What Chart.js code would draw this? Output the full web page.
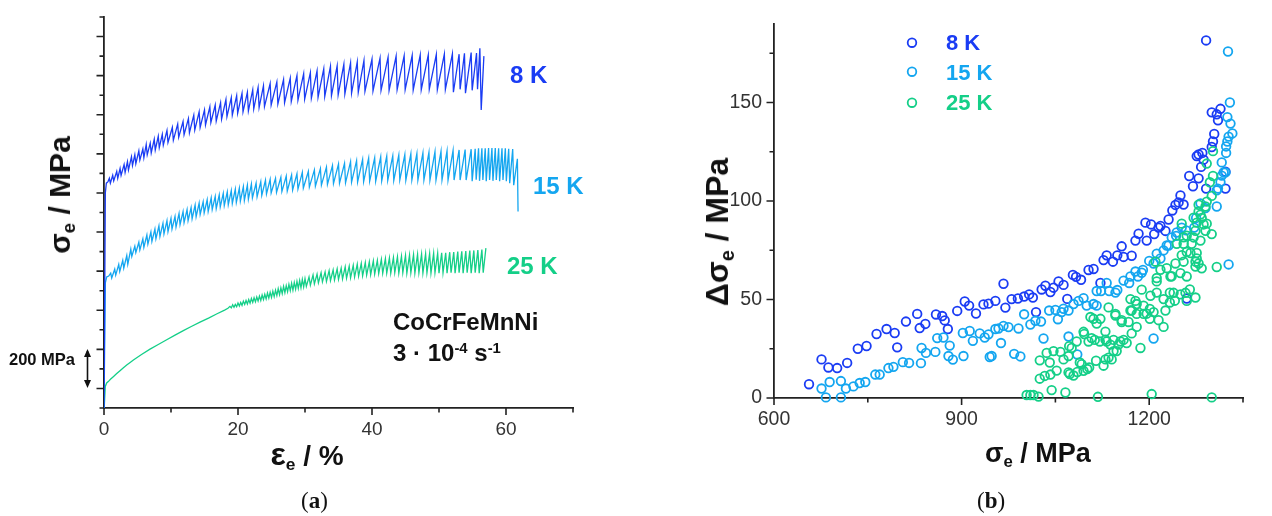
<!DOCTYPE html>
<html>
<head>
<meta charset="utf-8">
<script src="https://cdn.jsdelivr.net/npm/chart.js@4.4.0/dist/chart.umd.min.js"></script>
<style>
  body { margin: 0; width: 1272px; height: 516px; background: #fff; position: relative; overflow: hidden;
         font-family: "Liberation Sans", Arial, sans-serif; }
  canvas { position: absolute; top: 0; }
  #chartA { left: 0; }
  #chartB { left: 640px; }
  .t { position: absolute; line-height: 1; white-space: nowrap; font-weight: bold; color: #111; }
  .sub { font-size: 0.62em; position: relative; top: 0.28em; }
  .sup { font-size: 0.62em; position: relative; top: -0.55em; }
  .rot { transform: translate(-50%, -50%) rotate(-90deg); }
  .cap { font-family: "Liberation Serif", "DejaVu Serif", serif; font-weight: normal; font-size: 23px; }
</style>
</head>
<body>
<canvas id="chartA" width="640" height="516"></canvas>
<canvas id="chartB" width="632" height="516"></canvas>

<!-- panel (a) texts -->
<div class="t rot" style="left:60px; top:195px; font-size:30px;">&sigma;<span class="sub">e</span> / MPa</div>
<div class="t" style="left:307px; top:438px; font-size:28px; transform:translateX(-50%);"><span style="font-size:1.15em">&epsilon;</span><span class="sub">e</span> / %</div>
<div class="t" style="left:510px; top:63px; font-size:24px; color:#1a3cf4;">8 K</div>
<div class="t" style="left:533px; top:174px; font-size:24px; color:#14a6f0;">15 K</div>
<div class="t" style="left:507px; top:254px; font-size:24px; color:#14cf88;">25 K</div>
<div class="t" style="left:393px; top:310px; font-size:24px;">CoCrFeMnNi</div>
<div class="t" style="left:393px; top:341px; font-size:24px;">3 &middot; 10<span class="sup">-4</span> s<span class="sup">-1</span></div>
<div class="t" style="left:9px; top:351px; font-size:16.5px;">200 MPa</div>
<svg style="position:absolute; left:80px; top:345px;" width="16" height="48">
  <line x1="7.5" y1="6" x2="7.5" y2="40" stroke="#111" stroke-width="1.6"/>
  <polygon points="7.5,4 4,12 11,12" fill="#111"/>
  <polygon points="7.5,43 4,35 11,35" fill="#111"/>
</svg>
<div class="t cap" style="left:301px; top:489px;">(<b>a</b>)</div>

<!-- panel (b) texts and legend -->
<div class="t rot" style="left:717px; top:232px; font-size:32px;">&Delta;&sigma;<span class="sub">e</span> / MPa</div>
<div class="t" style="left:985px; top:440px; font-size:27px;">&sigma;<span class="sub">e</span> / MPa</div>
<svg style="position:absolute; left:900px; top:30px;" width="24" height="86">
  <circle cx="12" cy="12.7" r="4.3" fill="none" stroke="#1a3cf4" stroke-width="1.8"/>
  <circle cx="12" cy="41.7" r="4.3" fill="none" stroke="#14a6f0" stroke-width="1.8"/>
  <circle cx="12" cy="72.7" r="4.3" fill="none" stroke="#14cf88" stroke-width="1.8"/>
</svg>
<div class="t" style="left:946px; top:32px; font-size:22px; color:#1a3cf4;">8 K</div>
<div class="t" style="left:946px; top:62px; font-size:22px; color:#14a6f0;">15 K</div>
<div class="t" style="left:946px; top:92px; font-size:22px; color:#14cf88;">25 K</div>
<div class="t cap" style="left:977px; top:489px;">(<b>b</b>)</div>

<script>
// colours per test temperature
const C8 = '#1a3cf4';
const C15 = '#14a6f0';
const C25 = '#14cf88';

// (a) engineering stress-strain curves, [strain %, stress MPa] with curves shifted apart
const curve8K = [
  [0,-100],[0.2,1000],[0.35,1050],[0.6,1058],
  [0.8,1075],[0.95,1050],[1.3,1090],[1.45,1062],[1.9,1110],[2.05,1075],[2.4,1125],[2.55,1090],
  [3.0,1145],[3.15,1105],[3.5,1160],[3.65,1118],[4.1,1185],[4.25,1140],[4.6,1195],[4.75,1150],
  [5.2,1215],[5.35,1168],[5.8,1225],[5.95,1180],[6.3,1248],[6.45,1195],[6.9,1255],[7.05,1205],
  [7.5,1275],[7.65,1220],[8.1,1290],[8.25,1232],[8.7,1300],[8.85,1245],[9.4,1320],[9.55,1258],
  [10.2,1335],[10.35,1270],[11.0,1352],[11.15,1285],[11.8,1365],[11.95,1298],[12.6,1380],[12.75,1308],
  [13.4,1398],[13.55,1322],[14.2,1415],[14.35,1335],[15.0,1425],[15.15,1348],[15.8,1440],[15.95,1360],
  [16.6,1450],[16.75,1368],[17.4,1462],[17.55,1378],[18.2,1478],[18.35,1390],[19.0,1488],[19.15,1398],
  [19.8,1498],[19.95,1408],[20.6,1510],[20.75,1415],[21.4,1515],[21.55,1420],[22.2,1528],[22.35,1430],
  [23.0,1540],[23.15,1437],[23.8,1548],[23.95,1442],[24.8,1560],[24.95,1450],[25.8,1568],[25.95,1455],
  [26.8,1580],[26.95,1462],[27.8,1588],[27.95,1468],[28.8,1600],[28.95,1475],[29.8,1610],[29.95,1480],
  [30.8,1615],[30.95,1485],[31.8,1625],[31.95,1490],[32.8,1635],[32.95,1494],[33.8,1648],[33.95,1498],
  [34.8,1650],[34.95,1502],[35.8,1658],[35.95,1506],[36.8,1666],[36.95,1510],[37.8,1670],[37.95,1515],
  [38.8,1678],[38.95,1520],[40.0,1685],[40.15,1522],[41.2,1690],[41.35,1525],[42.4,1695],[42.55,1525],
  [43.6,1700],[43.75,1528],[44.8,1702],[44.95,1528],[46.0,1704],[46.15,1527],[47.2,1706],[47.35,1528],
  [48.4,1706],[48.55,1530],[49.6,1708],[49.75,1528],[50.8,1710],[50.95,1530],[52.0,1712],[52.15,1515],
  [53.0,1710],[53.15,1530],[53.8,1714],[53.95,1510],[54.8,1718],[54.95,1525],[55.6,1716],[55.75,1530],
  [56.1,1740],[56.3,1424],[56.7,1700]
];

const curve15K = [
  [0,-100],[0.2,540],[0.4,570],[0.7,575],
  [1.0,590],[1.15,565],[1.6,610],[1.75,580],[2.2,635],[2.35,598],[2.8,655],[2.95,615],
  [3.4,680],[3.55,635],[4.0,712],[4.15,675],[4.6,728],[4.75,695],[5.2,748],[5.35,708],
  [5.8,765],[5.95,722],[6.4,785],[6.55,738],[7.0,800],[7.15,752],[7.6,815],[7.75,765],
  [8.2,832],[8.35,778],[8.8,845],[8.95,790],[9.4,858],[9.55,802],[10.0,870],[10.15,815],
  [10.6,880],[10.75,825],[11.2,895],[11.35,838],[11.8,905],[11.95,848],[12.4,915],[12.55,858],
  [13.0,925],[13.15,868],[13.6,938],[13.75,878],[14.2,948],[14.35,890],[14.8,955],[14.95,898],
  [15.4,965],[15.55,905],[16.0,975],[16.15,915],[16.6,982],[16.75,920],[17.2,990],[17.35,928],
  [17.8,998],[17.95,935],[18.4,1005],[18.55,940],[19.0,1012],[19.15,946],[19.6,1020],[19.75,952],
  [20.2,1025],[20.35,958],[20.8,1032],[20.95,962],[21.4,1040],[21.55,968],[22.0,1045],[22.15,975],
  [22.7,1050],[22.85,980],[23.4,1058],[23.55,988],[24.1,1065],[24.25,995],[24.8,1070],[24.95,1000],
  [25.6,1075],[25.75,1003],[26.4,1080],[26.55,1007],[27.2,1086],[27.35,1010],[28.0,1092],[28.15,1015],
  [28.8,1098],[28.95,1020],[29.6,1105],[29.75,1025],[30.5,1110],[30.65,1030],[31.4,1118],[31.55,1035],
  [32.3,1125],[32.45,1040],[33.2,1132],[33.35,1044],[34.1,1140],[34.25,1048],[35.0,1148],[35.15,1050],
  [35.9,1152],[36.05,1052],[36.8,1160],[36.95,1055],[37.7,1165],[37.85,1056],[38.6,1172],[38.75,1058],
  [39.5,1178],[39.65,1060],[40.4,1180],[40.55,1060],[41.3,1185],[41.45,1062],[42.2,1188],[42.35,1064],
  [43.1,1190],[43.25,1064],[44.0,1194],[44.15,1066],[44.9,1196],[45.05,1065],[45.8,1200],[45.95,1066],
  [46.7,1202],[46.85,1066],[47.6,1205],[47.75,1066],[48.5,1208],[48.65,1066],[49.4,1211],[49.55,1066],
  [50.3,1213],[50.45,1066],[51.2,1215],[51.35,1066],[52.1,1218],[52.25,1066],[53.0,1220],[53.15,1066],
  [53.9,1222],[54.05,1066],[54.8,1224],[54.95,1060],[55.4,1226],[55.55,1068],[55.9,1228],[56.05,1062],
  [56.4,1229],[56.55,1066],[56.9,1229],[57.05,1060],[57.4,1230],[57.55,1066],[57.9,1230],[58.05,1062],
  [58.4,1230],[58.55,1066],[58.9,1229],[59.05,1060],[59.4,1229],[59.55,1066],[59.9,1228],[60.05,1060],
  [60.4,1226],[60.55,1050],[61.0,1225],[61.15,1040],[61.7,1175],[61.8,905]
];

const curve25K = [
  [0,-100],[0.04,-93],[0.19,10],[0.4,28],[0.64,35],[1.0,48],[1.39,60],[1.9,76],[2.39,91],[2.9,106],
  [3.39,120],[3.9,133],[4.39,146],[5.6,174],[6.87,201],[8.1,225],[9.36,249],[10.6,273],[11.84,296],
  [13.1,318],[14.33,339],[15.6,360],[16.8,381],[18.0,401],[18.5,410],
  [18.8,420],[19.0,412],[19.2,428],[19.4,415],[19.6,430],[19.8,418],[20.0,437],[20.2,422],
  [20.4,440],[20.6,425],[20.8,447],[21.0,430],[21.2,450],[21.4,432],[21.6,455],[21.8,436],
  [22.0,460],[22.2,440],[22.4,464],[22.6,443],[22.8,468],[23.0,447],[23.2,472],[23.4,450],
  [23.6,478],[23.8,455],[24.0,482],[24.2,458],[24.4,488],[24.6,462],[24.8,492],[25.0,466],
  [25.2,498],[25.4,470],[25.6,503],[25.8,475],[26.0,510],[26.2,480],[26.4,515],[26.6,485],
  [26.8,522],[27.0,490],[27.2,526],[27.4,495],[27.6,532],[27.8,500],[28.0,538],[28.2,503],
  [28.4,542],[28.6,508],[28.8,548],[29.0,512],[29.2,552],[29.4,515],[29.6,558],[29.8,520],
  [30.0,562],[30.2,522],[30.6,570],[30.8,528],[31.2,580],[31.4,535],[31.8,585],[32.0,540],
  [32.4,592],[32.6,545],[33.0,596],[33.2,548],[33.6,602],[33.8,552],[34.2,606],[34.4,555],
  [34.8,612],[35.0,558],[35.4,615],[35.6,560],[36.0,622],[36.2,564],[36.6,626],[36.8,566],
  [37.2,630],[37.4,570],[37.8,636],[38.0,574],[38.4,640],[38.6,576],[39.0,644],[39.2,580],
  [39.6,648],[39.8,582],[40.2,652],[40.4,585],[40.8,655],[41.0,588],[41.4,660],[41.6,589],
  [42.0,664],[42.2,590],[42.6,668],[42.8,590],[43.2,670],[43.4,592],[43.8,674],[44.0,590],
  [44.4,676],[44.6,592],[45.0,680],[45.2,590],[45.6,682],[45.8,592],[46.2,684],[46.4,590],
  [46.8,686],[47.0,592],[47.4,687],[47.6,590],[48.0,689],[48.2,592],[48.6,690],[48.8,590],
  [49.2,692],[49.4,592],[49.8,692],[50.0,590],[50.4,694],[50.6,592],[51.0,694],[51.2,590],
  [51.6,697],[51.8,592],[52.2,698],[52.4,590],[52.8,700],[53.0,592],[53.4,702],[53.6,590],
  [54.0,703],[54.2,592],[54.6,705],[54.8,590],[55.2,706],[55.4,592],[55.8,708],[56.0,590],
  [56.4,710],[56.6,592],[57.0,718]
];

// (a) axis ticks
const strainTicks = [0, 10, 20, 30, 40, 50, 60, 70];
const strainMajor = [0, 20, 40, 60];
const stressTicksA = [-100,0,100,200,300,400,500,600,700,800,900,1000,1100,1200,1300,1400,1500,1600,1700,1800,1900];
const stressMajorA = [0,200,400,600,800,1000,1200,1400,1600,1800];

// (b) stress drop amplitude vs. flow stress, [stress MPa, drop MPa]
const drop8K = [
  [656,7],[676,19.6],[687,15.5],[701,15.2],[717,17.8],[734,25],[748,26.4],[764,32.5],[780,35],[793,33],
  [797,25.7],[811,38.8],[829,42.7],[833,35.5],[842,37.6],[859,42.4],[869,41.6],[873,39.4],[878,35],
  [893,44.2],[905,49],[912,46.9],[923,42.9],[935,47.5],[943,47.9],[954,49.3],[967,58],[970,45.9],
  [980,50.2],[990,50.5],[1000,51.5],[1008,52.6],[1014,51],[1019,43.6],[1028,55.1],[1034,57],[1042,53.8],
  [1047,56],[1055,59.2],[1063,57.4],[1069,50.3],[1078,62.5],[1083,61.5],[1091,60],[1103,65],[1111,65.5],
  [1122,58.4],[1127,70],[1132,72.4],[1142,69.2],[1149,72.4],[1156,77],[1159,71.6],[1172,72.2],
  [1178,79.9],[1183,83.4],[1194,89],[1196,79.9],[1203,88.1],[1208,83.2],[1215,86.5],[1218,87.3],
  [1226,84.8],[1231,90.6],[1237,95.2],[1242,98],[1247,99.3],[1250,102.8],[1255,98.2],[1260,50.5],
  [1264,112.7],[1270,107.5],[1276,122.8],[1279,111.5],[1279,123.6],[1283,117.3],[1285,124.4],
  [1287,121],[1291,106.3],[1291,181.5],[1300,127.4],[1300,145],[1302,130.2],[1304,134],[1308,144],
  [1310,141],[1314,146.8],[1322,114.9],[1322,106.3]
];

const drop15K = [
  [676,4.8],[683,0.3],[689,8.1],[707,8.6],[707,0.3],[715,4.8],[727,5.9],[737,7.6],[746,8.1],[762,11.9],
  [769,11.9],[783,15.2],[791,15.8],[806,18.2],[816,17.8],[835,17.7],[836,25.4],[843,22.9],[858,23.4],
  [861,30.4],[871,30.7],[879,21.3],[881,26.6],[886,19.5],[902,33],[903,21.3],[913,34],[918,29],
  [929,32.8],[937,30.7],[943,32.3],[945,20.8],[948,21.3],[954,35],[959,35.3],[963,27.9],[967,36.6],
  [975,36],[984,22.4],[991,35.3],[994,21.1],[1000,42.5],[1010,37.3],[1018,39.2],[1027,38.8],[1031,30.2],
  [1040,44.4],[1050,44.7],[1054,40],[1060,43.6],[1063,45.3],[1071,44.4],[1071,31.2],[1079,47.7],
  [1085,22.1],[1087,49.3],[1095,50.7],[1100,46.9],[1111,47.7],[1116,54.3],[1116,46.9],[1123,54.3],
  [1132,58.4],[1136,54.3],[1146,53.5],[1149,54.8],[1159,59.6],[1168,58.4],[1170,61.7],[1178,64.2],
  [1182,61.7],[1188,63.6],[1190,65],[1200,69.6],[1207,68.3],[1207,30.2],[1212,73.3],[1218,70.8],
  [1223,74.9],[1228,77.4],[1231,77.4],[1236,81.5],[1243,82.3],[1244,84],[1252,86.5],[1259,85.1],
  [1272,86.5],[1275,91.4],[1282,98.8],[1290,96.4],[1308,97.2],[1308,105.4],[1310,106.3],[1314,109.6],
  [1316,112.9],[1316,119.6],[1319,114.5],[1322,114.5],[1323,124.4],[1323,127.7],[1325,130.2],
  [1325,142.6],[1326,175.9],[1327,67.8],[1327,132.7],[1329,150],[1330,139.3],[1333,134.3]
];

const drop25K = [
  [1004,1.5],[1010,1.5],[1015,1.5],[1023,0.7],[1044,4],[1066,2.8],[1118,0.6],[1204,2],[1300,0.3],
  [1025,9.8],[1025,19.1],[1033,11.2],[1036,22.9],[1041,18],[1042,11.9],[1047,23.8],[1052,13.9],
  [1058,23.4],[1063,19.6],[1071,13],[1071,21.3],[1073,12.2],[1072,26.3],[1076,25.4],[1079,11.4],
  [1084,28.7],[1085,13.2],[1089,18],[1092,17.2],[1095,13.8],[1095,33.6],[1096,32.5],[1101,14.7],
  [1103,28.7],[1104,15.5],[1106,41.1],[1108,30.4],[1111,40.2],[1113,29.5],[1115,18.9],[1116,37.8],
  [1121,28.7],[1122,40.2],[1127,16.4],[1130,19.6],[1130,33.7],[1130,29.6],[1132,28.7],[1135,20.5],
  [1135,46],[1138,27.1],[1140,19.6],[1143,23.8],[1143,29.5],[1146,41.9],[1146,42.7],[1148,23.8],
  [1151,27.1],[1154,28.7],[1156,38.6],[1156,39.5],[1159,29.5],[1164,27.9],[1167,38.6],[1170,44.4],
  [1170,50.2],[1172,32.8],[1172,44.4],[1178,49.3],[1180,36.1],[1180,47.7],[1180,42.7],[1186,25.4],
  [1188,55],[1191,42.7],[1191,46.9],[1196,42.8],[1201,40.2],[1201,45.2],[1202,51.9],[1207,43.6],
  [1210,69.2],[1212,60.9],[1212,53.5],[1212,59.2],[1215,39.5],[1218,65.1],[1223,36.1],[1223,50.2],
  [1226,44.4],[1228,65.9],[1233,48.5],[1233,53.5],[1234,61.7],[1236,61.8],[1239,53.4],[1241,49.4],
  [1242,68.3],[1244,78.3],[1250,52.6],[1250,63.4],[1252,72.5],[1252,88.5],[1255,69.2],[1255,78.3],
  [1255,81.6],[1258,53.4],[1260,49.3],[1260,61.7],[1260,74.1],[1260,82.4],[1265,55.1],[1266,73.6],
  [1268,78.3],[1271,91.5],[1271,81.5],[1274,51],[1274,66.7],[1274,69.2],[1274,84.9],[1276,70.8],
  [1276,73.6],[1276,89],[1279,68.3],[1279,94.7],[1279,98.1],[1282,79.9],[1282,93.1],[1284,65.8],
  [1284,91.4],[1287,88.1],[1290,84.9],[1290,97.2],[1292,88.5],[1292,99.7],[1292,119],[1297,109.5],
  [1300,83.2],[1300,102.6],[1302,112.7],[1302,125.3],[1308,66.5]
];

// (b) axis ticks
const sigmaTicks = [600, 750, 900, 1050, 1200, 1350];
const sigmaMajor = [600, 900, 1200];
const dropTicks = [0, 25, 50, 75, 100, 125, 150, 175];
const dropMajor = [0, 50, 100, 150];

const FONT = '"Liberation Sans", Arial, sans-serif';
const AXIS = '#222';

const toXY = arr => arr.map(([x, y]) => ({ x, y }));

// draws outward tick marks with two lengths (major / minor)
const tickMarks = {
  id: 'tickMarks',
  afterDraw(chart, args, opts) {
    const { ctx, chartArea: a } = chart;
    const xs = chart.scales.x, ys = chart.scales.y;
    ctx.save();
    ctx.strokeStyle = AXIS;
    ctx.lineWidth = 1.6;
    ctx.beginPath();
    opts.x.values.forEach(v => {
      const px = xs.getPixelForValue(v);
      const len = opts.x.major.includes(v) ? 7 : 4.5;
      ctx.moveTo(px, a.bottom);
      ctx.lineTo(px, a.bottom + len);
    });
    opts.y.values.forEach(v => {
      const py = ys.getPixelForValue(v);
      const len = opts.y.major.includes(v) ? 7.5 : 4.5;
      ctx.moveTo(a.left, py);
      ctx.lineTo(a.left - len, py);
    });
    ctx.stroke();
    ctx.restore();
  }
};

const lineSet = (data, color) => ({
  data: toXY(data), borderColor: color, borderWidth: 1.3, pointRadius: 0, tension: 0, fill: false
});

new Chart(document.getElementById('chartA'), {
  type: 'line',
  data: {
    datasets: [lineSet(curve8K, C8), lineSet(curve15K, C15), lineSet(curve25K, C25)]
  },
  options: {
    responsive: false,
    animation: false,
    events: [],
    layout: { padding: { left: 0, top: 17, right: 67, bottom: 0 } },
    plugins: {
      legend: { display: false },
      tooltip: { enabled: false },
      tickMarks: {
        x: { values: strainTicks, major: strainMajor },
        y: { values: stressTicksA, major: stressMajorA }
      }
    },
    scales: {
      x: {
        type: 'linear', min: 0, max: 70,
        afterBuildTicks: s => { s.ticks = strainTicks.map(v => ({ value: v })); },
        afterFit: s => { s.height = 108; },
        grid: { display: false, drawTicks: false },
        border: { color: AXIS, width: 1.8 },
        ticks: {
          autoSkip: false, maxRotation: 0, padding: 10, color: '#333',
          font: { family: FONT, size: 19 },
          callback: v => (strainMajor.includes(v) ? String(v) : '')
        }
      },
      y: {
        type: 'linear', min: -100, max: 1900,
        afterFit: s => { s.width = 104; },
        grid: { display: false, drawTicks: false },
        border: { color: AXIS, width: 1.8 },
        ticks: { display: false }
      }
    }
  },
  plugins: [tickMarks]
});

const dotSet = (data, color, order) => ({
  data: toXY(data), borderColor: color, backgroundColor: 'rgba(0,0,0,0)',
  pointRadius: 4.3, pointBorderWidth: 1.8, borderWidth: 1.8, clip: false, order
});

new Chart(document.getElementById('chartB'), {
  type: 'scatter',
  data: {
    datasets: [dotSet(drop8K, C8, 3), dotSet(drop15K, C15, 2), dotSet(drop25K, C25, 1)]
  },
  options: {
    responsive: false,
    animation: false,
    events: [],
    layout: { padding: { left: 0, top: 15, right: 29, bottom: 0 } },
    plugins: {
      legend: { display: false },
      tooltip: { enabled: false },
      tickMarks: {
        x: { values: sigmaTicks, major: sigmaMajor },
        y: { values: dropTicks, major: dropMajor }
      }
    },
    scales: {
      x: {
        type: 'linear', min: 600, max: 1350,
        afterBuildTicks: s => { s.ticks = sigmaTicks.map(v => ({ value: v })); },
        afterFit: s => { s.height = 118; },
        grid: { display: false, drawTicks: false },
        border: { color: AXIS, width: 1.8 },
        ticks: {
          autoSkip: false, maxRotation: 0, padding: 10, color: '#333',
          font: { family: FONT, size: 19.5 },
          callback: v => (sigmaMajor.includes(v) ? String(v) : '')
        }
      },
      y: {
        type: 'linear', min: 0, max: 190,
        afterBuildTicks: s => { s.ticks = dropTicks.map(v => ({ value: v })); },
        afterFit: s => { s.width = 134; },
        grid: { display: false, drawTicks: false },
        border: { color: AXIS, width: 1.8 },
        ticks: {
          autoSkip: false, padding: 12, color: '#333',
          font: { family: FONT, size: 19.5 },
          callback: v => (dropMajor.includes(v) ? String(v) : '')
        }
      }
    }
  },
  plugins: [tickMarks]
});
</script>
</body>
</html>
